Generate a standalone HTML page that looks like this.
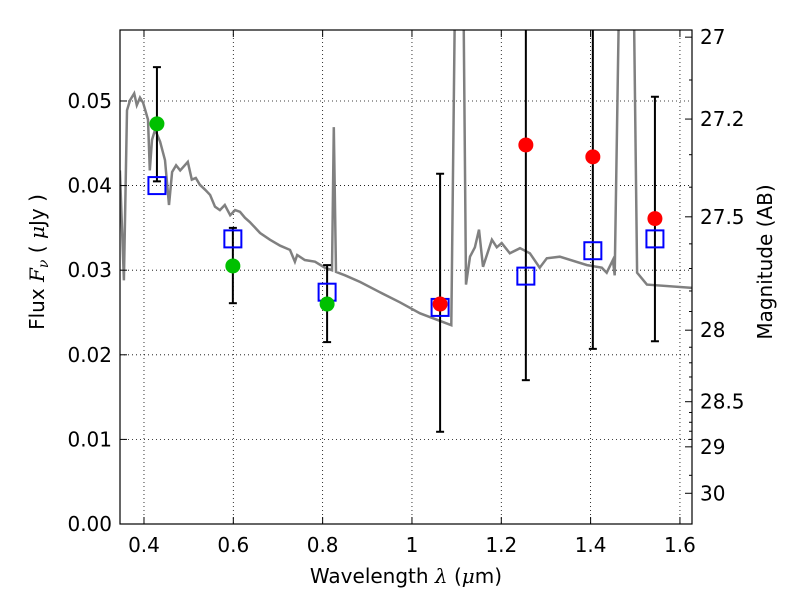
<!DOCTYPE html>
<html><head><meta charset="utf-8"><style>
body{margin:0;background:#fff;}
svg{display:block;font-family:"DejaVu Sans","Liberation Sans",sans-serif;}
</style></head><body>
<svg id="chart" width="800" height="600" xmlns="http://www.w3.org/2000/svg"></svg>
<script>
const specWl=[0.346,0.355,0.362,0.369,0.378,0.384,0.391,0.398,0.409,0.413,0.418,0.425,0.436,0.447,0.456,0.463,0.472,0.481,0.498,0.507,0.516,0.525,0.537,0.548,0.559,0.570,0.581,0.593,0.604,0.615,0.626,0.637,0.660,0.682,0.705,0.727,0.738,0.743,0.760,0.783,0.805,0.821,0.825,0.830,0.850,0.884,0.928,0.973,1.018,1.088,1.098,1.114,1.121,1.130,1.141,1.150,1.159,1.179,1.190,1.201,1.219,1.242,1.264,1.286,1.302,1.331,1.392,1.425,1.436,1.450,1.454,1.466,1.495,1.504,1.526,1.629];
const specFlux=[0.0418,0.0288,0.0489,0.0501,0.0509,0.0495,0.0504,0.0498,0.0478,0.0418,0.0454,0.0466,0.0452,0.0430,0.0377,0.0416,0.0424,0.0418,0.0428,0.0407,0.0409,0.0401,0.0395,0.0389,0.0375,0.0371,0.0377,0.0365,0.0371,0.0369,0.0362,0.0357,0.0344,0.0336,0.0329,0.0324,0.0310,0.0318,0.0312,0.0310,0.0303,0.0300,0.0469,0.0298,0.0294,0.0286,0.0274,0.0262,0.0249,0.0235,0.07,0.07,0.0283,0.0316,0.0327,0.0348,0.0304,0.0336,0.0327,0.0332,0.0320,0.0326,0.0320,0.0303,0.0314,0.0316,0.0306,0.0303,0.0297,0.0312,0.0294,0.07,0.07,0.0297,0.0283,0.0279];
const bandWl=[0.429,0.599,0.810,1.063,1.255,1.405,1.544];
const modelFlux=[0.0400,0.0337,0.0274,0.0256,0.0293,0.0323,0.0337];
const obsFlux=[0.0473,0.0305,0.0260,0.0260,0.0448,0.0434,0.0361];
const obsDetected=[true,true,true,false,false,false,false];
const errLow=[0.0405,0.0261,0.0215,0.0109,0.0170,0.0207,0.0216];
const errHigh=[0.0540,0.0350,0.0306,0.0414,0.0700,0.0700,0.0505];
const xTicks=[0.4,0.6,0.8,1.0,1.2,1.4,1.6];
const xTickLabels=["0.4","0.6","0.8","1","1.2","1.4","1.6"];
const yTicks=[0,0.01,0.02,0.03,0.04,0.05];
const yTickLabels=["0.00","0.01","0.02","0.03","0.04","0.05"];
const magTicks=[27,27.2,27.5,28,28.5,29,30];
const magTickLabels=["27","27.2","27.5","28","28.5","29","30"];
const magMinor=[27.1,27.3,27.4,27.6,27.7,27.8,27.9,28.1,28.2,28.3,28.4,28.6,28.7,28.8,28.9,29.5];

const L=120,R=692,T=30,B=524,xmin=0.3463,xmax=1.627,ymax=0.05839;
const X=v=>L+(v-xmin)/(xmax-xmin)*(R-L);
const Y=f=>B-f/ymax*(B-T);
const M=m=>Y(Math.pow(10,(23.9-m)/2.5));
const NS="http://www.w3.org/2000/svg";
const svg=document.getElementById('chart');
function mk(t,a,p){const e=document.createElementNS(NS,t);for(const k in a)e.setAttribute(k,a[k]);(p||svg).appendChild(e);return e;}

const defs=mk('defs',{});const cp=mk('clipPath',{id:'clip'},defs);mk('rect',{x:L,y:T,width:R-L,height:B-T},cp);

const grid=mk('g',{});


xTicks.forEach(v=>mk('line',{x1:X(v),x2:X(v),y1:T,y2:B,stroke:'#000','stroke-width':0.8,'stroke-dasharray':'1,3'},grid));
yTicks.forEach(v=>mk('line',{x1:L,x2:R,y1:Y(v),y2:Y(v),stroke:'#000','stroke-width':0.8,'stroke-dasharray':'1,3'},grid));

const plot=mk('g',{'clip-path':'url(#clip)'});
const sp=mk('path',{d:specWl.map((w,i)=>(i?'L':'M')+X(w).toFixed(1)+','+Y(specFlux[i]).toFixed(1)).join(''),fill:'none',stroke:'#808080','stroke-width':2.5},plot);



bandWl.forEach((w,i)=>{
 const g=mk('g',{},plot);
 
 
 const x=X(w);
 mk('line',{x1:x,x2:x,y1:Y(errLow[i]),y2:Y(errHigh[i]),stroke:'#000','stroke-width':2},g);
 mk('line',{x1:x-4,x2:x+4,y1:Y(errLow[i]),y2:Y(errLow[i]),stroke:'#000','stroke-width':2},g);
 mk('line',{x1:x-4,x2:x+4,y1:Y(errHigh[i]),y2:Y(errHigh[i]),stroke:'#000','stroke-width':2},g);
});
bandWl.forEach((w,i)=>{
 const s=mk('rect',{x:X(w)-8.5,y:Y(modelFlux[i])-8.5,width:17,height:17,fill:'none',stroke:'#0000ff','stroke-width':2},plot);
 
 
});
bandWl.forEach((w,i)=>{
 const c=mk('circle',{cx:X(w),cy:Y(obsFlux[i]),r:7.5,fill:obsDetected[i]?'#00c000':'#ff0000'},plot);
 
 
});

const frame=mk('rect',{x:L,y:T,width:R-L,height:B-T,fill:'none',stroke:'#000','stroke-width':1.2});



const ax=mk('g',{});


xTicks.forEach((v,i)=>{
 mk('line',{x1:X(v),x2:X(v),y1:B,y2:B-7,stroke:'#000'},ax);
 mk('line',{x1:X(v),x2:X(v),y1:T,y2:T+7,stroke:'#000'},ax);
 const t=mk('text',{x:X(v),y:B+28,'text-anchor':'middle','font-size':20},ax);t.textContent=xTickLabels[i];
 
 
});
yTicks.forEach((v,i)=>{
 mk('line',{x1:L,x2:L+7,y1:Y(v),y2:Y(v),stroke:'#000'},ax);
 const t=mk('text',{x:L-8,y:Y(v)+7,'text-anchor':'end','font-size':20},ax);t.textContent=yTickLabels[i];
 
 
});
magTicks.forEach((m,i)=>{
 mk('line',{x1:R,x2:R-7,y1:M(m),y2:M(m),stroke:'#000'},ax);
 const t=mk('text',{x:R+8,y:M(m)+7,'font-size':20},ax);t.textContent=magTickLabels[i];
 
 
});
magMinor.forEach(m=>mk('line',{x1:R,x2:R-3,y1:M(m),y2:M(m),stroke:'#000'},ax));
</script>
<svg width="800" height="600" style="position:absolute;left:0;top:0;font-family:'DejaVu Sans','Liberation Sans',sans-serif">
<text x="406" y="583" text-anchor="middle" font-size="20">Wavelength  <tspan font-style="italic" font-family="DejaVu Serif,serif">λ</tspan> (<tspan font-style="italic" font-family="DejaVu Serif,serif">μ</tspan>m)</text>
<text transform="translate(44,262) rotate(-90)" text-anchor="middle" font-size="20">Flux  <tspan font-style="italic" font-family="DejaVu Serif,serif">F<tspan font-size="14" dy="4">ν</tspan></tspan><tspan dy="-4"> (  </tspan><tspan font-style="italic" font-family="DejaVu Serif,serif">μ</tspan>Jy )</text>
<text transform="translate(772,262) rotate(-90)" text-anchor="middle" font-size="20">Magnitude (AB)</text>
</svg>
</body></html>
